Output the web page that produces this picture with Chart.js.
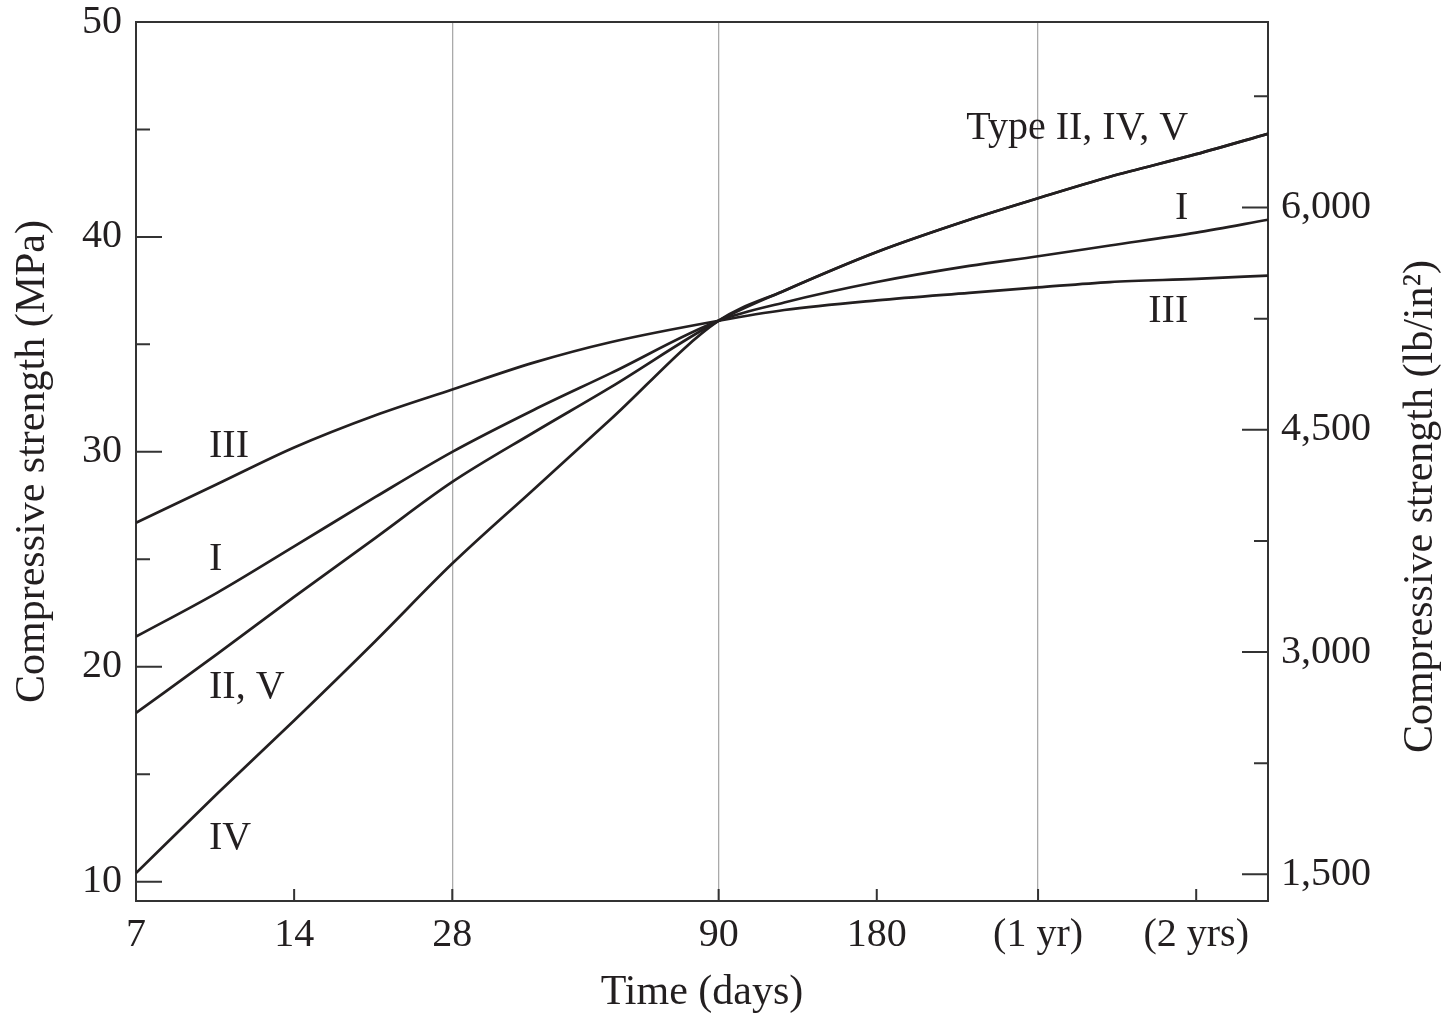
<!DOCTYPE html>
<html>
<head>
<meta charset="utf-8">
<title>Compressive strength vs time</title>
<script src="https://cdn.jsdelivr.net/npm/chart.js@4.4.1/dist/chart.umd.min.js"></script>
<style>
  html, body { margin: 0; padding: 0; background: #fff; }
  canvas { display: block; }
</style>
</head>
<body>
<canvas id="strengthChart" width="1455" height="1020"></canvas>
<script>
// Strength (MPa), per cement type
const days = [7, 10, 14, 20, 28, 40, 56, 90, 120, 180, 270, 365, 500, 730, 1000];
const typeIII = [26.7, 28.5, 30.2, 31.7, 32.9, 34.15, 35.1, 36.1, 36.6, 37.05, 37.4, 37.65, 37.9, 38.05, 38.2];
const typeI = [21.4, 23.45, 25.6, 27.9, 30.0, 31.95, 33.65, 36.1, 36.95, 37.9, 38.65, 39.1, 39.6, 40.2, 40.8];
const typeIIandV = [17.85, 20.6, 23.25, 26.0, 28.6, 30.9, 33.0, 36.1, 37.5, 39.3, 40.8, 41.8, 42.8, 43.85, 44.8];
const typeIV = [10.4, 14.1, 17.5, 21.2, 24.8, 28.25, 31.5, 36.1, 37.5, 39.3, 40.8, 41.8, 42.8, 43.85, 44.8];

const dayTicks = [7, 14, 28, 90, 180, 365, 730];
const dayTickLabels = ["7", "14", "28", "90", "180", "(1 yr)", "(2 yrs)"];
const gridDays = [28, 90, 365];
const mpaTicks = [10, 15, 20, 25, 30, 35, 40, 45, 50];
const psiTicks = [1500, 2250, 3000, 3750, 4500, 5250, 6000, 6750];

// text next to the curves, anchored in data units (day, MPa baseline)
const curveLabels = ["III", "I", "II, V", "IV", "Type II, IV, V", "I", "III"];
const labelDays = [9.64, 9.64, 9.64, 9.64, 705, 705, 705];
const labelMPa = [29.78, 24.5, 18.56, 11.5, 44.55, 40.84, 36.05];
const labelAlign = ["left", "left", "left", "left", "right", "right", "right"];

const MPA_TO_PSI = 145.038;
const yMin = 9.1;
const yMax = 50;
const ink = "#231f20";
const axisInk = "#333";
const serif = "'Liberation Serif', 'Times New Roman', serif";

function toPoints(values) {
  return values.map((v, i) => ({ x: days[i], y: v }));
}

function curve(values) {
  return {
    data: toPoints(values),
    borderColor: ink,
    borderWidth: 2.7,
    pointRadius: 0,
    fill: false,
    cubicInterpolationMode: "monotone"
  };
}

// keep the plot box fixed: no extra room for half-labels at the ends
function fixWidth(w) {
  return s => { s.width = w; s.paddingTop = 0; s.paddingBottom = 0; };
}

// frame top, inward tick marks, curve labels, right-hand title
const frameAndLabels = {
  id: "frameAndLabels",
  afterDraw(chart) {
    const { ctx, chartArea: area, scales } = chart;
    ctx.save();
    ctx.strokeStyle = axisInk;
    ctx.lineWidth = 2;
    ctx.beginPath();
    ctx.moveTo(area.left - 1, area.top);
    ctx.lineTo(area.right + 1, area.top);
    ctx.stroke();

    ctx.beginPath();
    dayTicks.slice(1).forEach(d => {
      const px = scales.x.getPixelForValue(d);
      ctx.moveTo(px, area.bottom);
      ctx.lineTo(px, area.bottom - 12);
    });
    mpaTicks.forEach(v => {
      const py = scales.y.getPixelForValue(v);
      ctx.moveTo(area.left, py);
      ctx.lineTo(area.left + (v % 10 === 0 ? 26 : 14), py);
    });
    psiTicks.forEach(v => {
      const py = scales.y2.getPixelForValue(v);
      ctx.moveTo(area.right, py);
      ctx.lineTo(area.right - (v % 1500 === 0 ? 26 : 14), py);
    });
    ctx.stroke();

    ctx.fillStyle = ink;
    ctx.font = `40px ${serif}`;
    ctx.textBaseline = "alphabetic";
    curveLabels.forEach((text, i) => {
      ctx.textAlign = labelAlign[i];
      ctx.fillText(text, scales.x.getPixelForValue(labelDays[i]), scales.y.getPixelForValue(labelMPa[i]));
    });

    ctx.font = `42px ${serif}`;
    ctx.textAlign = "center";
    ctx.translate(chart.width - 23, (area.top + area.bottom) / 2 + 45);
    ctx.rotate(-Math.PI / 2);
    ctx.fillText("Compressive strength (lb/in\u00B2)", 0, 0);
    ctx.restore();
  }
};

new Chart(document.getElementById("strengthChart"), {
  type: "line",
  data: {
    datasets: [curve(typeIII), curve(typeI), curve(typeIIandV), curve(typeIV)]
  },
  options: {
    responsive: false,
    devicePixelRatio: 1,
    animation: false,
    layout: { padding: { top: 22, left: 0, right: 0, bottom: 0 } },
    plugins: { legend: { display: false }, tooltip: { enabled: false } },
    scales: {
      x: {
        type: "logarithmic",
        position: "bottom",
        min: 7,
        max: 1000,
        afterBuildTicks: s => { s.ticks = dayTicks.map(v => ({ value: v })); },
        afterFit: s => { s.height = 119; s.paddingLeft = 0; s.paddingRight = 0; },
        ticks: {
          autoSkip: false,
          maxRotation: 0,
          padding: 10,
          color: ink,
          font: { family: serif, size: 40 },
          callback: (v, i) => dayTickLabels[i]
        },
        grid: {
          drawTicks: false,
          lineWidth: 1.3,
          color: c => (c.tick && gridDays.includes(c.tick.value) ? "#aaaaaa" : "rgba(0,0,0,0)")
        },
        border: { display: true, color: axisInk, width: 2 },
        title: {
          display: true,
          text: "Time (days)",
          color: ink,
          font: { family: serif, size: 42 },
          padding: { top: 0, bottom: 2 }
        }
      },
      y: {
        type: "linear",
        position: "left",
        min: yMin,
        max: yMax,
        afterBuildTicks: s => { s.ticks = mpaTicks.map(v => ({ value: v })); },
        afterFit: fixWidth(136),
        ticks: {
          padding: 14,
          color: ink,
          font: { family: serif, size: 40 },
          callback: v => (v % 10 === 0 ? String(v) : "")
        },
        grid: { display: false, drawTicks: false },
        border: { display: true, color: axisInk, width: 2 },
        title: {
          display: true,
          text: "Compressive strength (MPa)",
          color: ink,
          font: { family: serif, size: 42 },
          padding: { top: 8, bottom: 0 }
        }
      },
      y2: {
        type: "linear",
        position: "right",
        min: yMin * MPA_TO_PSI,
        max: yMax * MPA_TO_PSI,
        afterBuildTicks: s => { s.ticks = psiTicks.map(v => ({ value: v })); },
        afterFit: fixWidth(187),
        ticks: {
          padding: 13,
          color: ink,
          font: { family: serif, size: 40 },
          callback: v => (v % 1500 === 0 ? v.toLocaleString("en-US") : "")
        },
        grid: { display: false, drawTicks: false },
        border: { display: true, color: axisInk, width: 2 }
      }
    }
  },
  plugins: [frameAndLabels]
});
</script>
</body>
</html>
